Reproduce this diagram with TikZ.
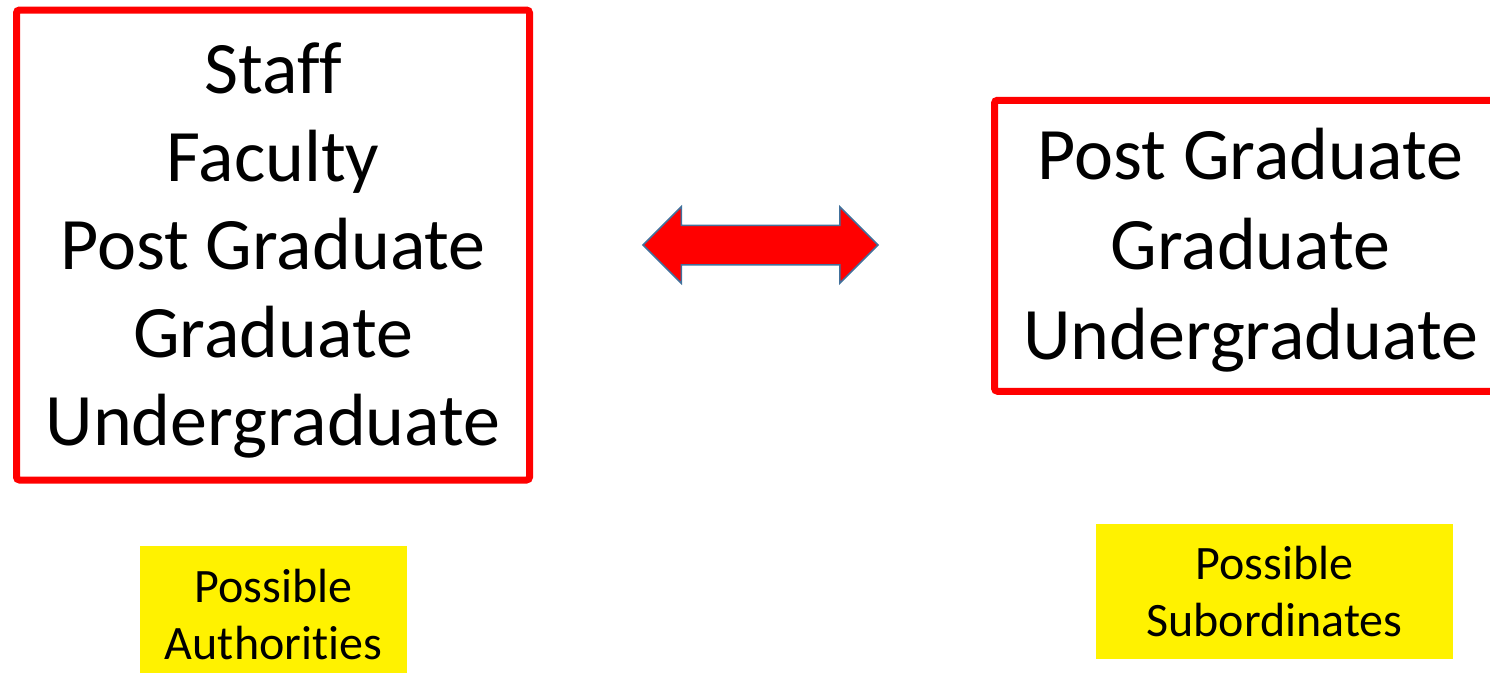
\documentclass[tikz,border=0pt]{standalone}
\usepackage{fontspec}
\setmainfont[Ligatures=NoCommon]{Carlito}
\usetikzlibrary{shapes.arrows}
\definecolor{arrowedge}{HTML}{41719C}
\tikzset{
  rolebox/.style={draw=red, line width=7pt, rounded corners=3pt, align=center,
    inner sep=0pt, font=\fontsize{74}{88}\selectfont},
  tagbox/.style={fill=yellow, align=center, inner sep=0pt,
    font=\fontsize{48}{57}\selectfont}
}
\begin{document}
\begin{tikzpicture}[x=1pt,y=-1pt]
\useasboundingbox (0,0) rectangle (1490,673);
% Authorities side
\node[rolebox, minimum width=513pt, minimum height=470pt] (authbox) at (273,245)
  {\rule{0pt}{61pt}Staff\\Faculty\\Post Graduate\\Graduate\\Undergraduate};
\node[tagbox, minimum width=267pt, minimum height=127pt] (authtag) at (273.5,609.5)
  {\rule{0pt}{44pt}Possible\\Authorities};

% Subordinates side (box runs off the right edge)
\node[rolebox, minimum width=512pt, minimum height=291pt,
  font=\fontsize{74}{90}\selectfont] (subbox) at (1250.5,245.75)
  {\rule{0pt}{60pt}Post Graduate\\Graduate\\Undergraduate};
\node[tagbox, minimum width=357pt, minimum height=135pt] (subtag) at (1274.5,591.5)
  {Possible\\Subordinates};

% Two-way link
\node[double arrow, fill=red, draw=arrowedge, line width=1.5pt,
  inner xsep=0pt, inner ysep=19pt, minimum height=235pt,
  double arrow head extend=18.5pt] (link) at (760.5,245) {};
\end{tikzpicture}
\end{document}
